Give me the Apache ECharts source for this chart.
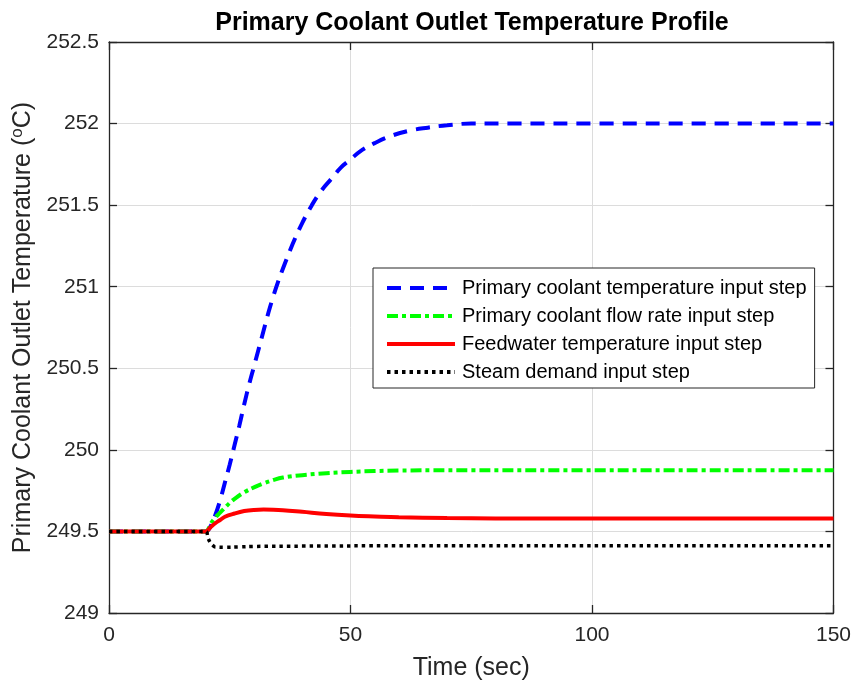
<!DOCTYPE html>
<html>
<head>
<meta charset="utf-8">
<script src="https://cdn.jsdelivr.net/npm/echarts@6/dist/echarts.min.js"></script>
<style>
  html, body { margin: 0; padding: 0; background: #fff; }
  #chart { width: 854px; height: 686px; }
</style>
</head>
<body>
<div id="chart"></div>
<script>
// series names (legend order)
const seriesNames = [
  "Primary coolant temperature input step",
  "Primary coolant flow rate input step",
  "Feedwater temperature input step",
  "Steam demand input step",
];

// primary coolant temperature step (blue dashed)
const tBlue = [0, 20, 21, 22, 23, 24, 25, 26, 27, 28, 29, 30, 31, 32, 33, 34, 35, 36, 38, 40, 42, 44, 46, 48, 50, 52, 55, 58, 62, 66, 70, 75, 80, 150];
const vBlue = [249.5, 249.5, 249.53, 249.6, 249.69, 249.8, 249.91, 250.03, 250.15, 250.28, 250.4, 250.51, 250.62, 250.73, 250.84, 250.94, 251.03, 251.11, 251.26, 251.39, 251.5, 251.59, 251.66, 251.73, 251.78, 251.83, 251.88, 251.92, 251.955, 251.975, 251.99, 252.0, 252.0, 252.0];

// primary coolant flow rate step (green dash-dot)
const tGreen = [0, 20, 21, 22, 23, 24, 25, 26, 28, 30, 32, 34, 36, 40, 45, 50, 55, 60, 70, 150];
const vGreen = [249.5, 249.5, 249.545, 249.585, 249.615, 249.645, 249.675, 249.7, 249.74, 249.77, 249.795, 249.815, 249.83, 249.845, 249.857, 249.865, 249.87, 249.873, 249.875, 249.875];

// feedwater temperature step (red solid)
const tRed = [0, 20, 21, 22, 23, 24, 26, 28, 30, 32, 34, 36, 40, 45, 50, 55, 60, 70, 80, 150];
const vRed = [249.5, 249.5, 249.525, 249.55, 249.57, 249.59, 249.61, 249.625, 249.632, 249.634, 249.633, 249.63, 249.62, 249.607, 249.598, 249.592, 249.587, 249.582, 249.58, 249.58];

// steam demand step (black dotted)
const tBlack = [0, 20, 20.5, 21, 21.5, 22, 24, 27, 30, 40, 60, 150];
const vBlack = [249.5, 249.5, 249.46, 249.43, 249.415, 249.405, 249.403, 249.405, 249.408, 249.41, 249.412, 249.412];

const pairs = (t, v) => t.map((x, i) => [x, v[i]]);

const FONT = "Liberation Sans, Arial, Helvetica, sans-serif";
const AXIS_COLOR = "#262626";

const chart = echarts.init(document.getElementById("chart"));

const line = (name, data, color, type, width) => ({
  name: name,
  type: "line",
  data: data,
  symbol: "none",
  smooth: 0.4,
  xAxisIndex: 0,
  yAxisIndex: 0,
  itemStyle: { color: color },
  lineStyle: { color: color, width: width, type: type, cap: "butt" },
  emphasis: { disabled: true },
});

const option = {
  animation: false,
  backgroundColor: "#fff",
  textStyle: { fontFamily: FONT },
  title: {
    text: "Primary Coolant Outlet Temperature Profile",
    left: 467,
    top: 6,
    textAlign: "center",
    textStyle: { fontFamily: FONT, fontSize: 25, fontWeight: "bold", color: "#000" },
  },
  grid: { left: 109, right: 20, top: 42, bottom: 72 },
  legend: {
    orient: "vertical",
    left: 373,
    top: 268,
    padding: [10, 8, 6, 12],
    itemWidth: 68,
    itemHeight: 14,
    itemGap: 8,
    backgroundColor: "#fff",
    borderColor: AXIS_COLOR,
    borderWidth: 1,
    borderRadius: 0,
    itemStyle: { opacity: 0 },
    lineStyle: { width: 4 },
    textStyle: { fontFamily: FONT, fontSize: 20, color: "#000", padding: [0, 0, 0, 2] },
    data: seriesNames,
  },
  xAxis: [
    {
      type: "value",
      min: 0,
      max: 150,
      interval: 50,
      name: "Time (sec)",
      nameLocation: "middle",
      nameGap: 43,
      nameTextStyle: { fontFamily: FONT, fontSize: 25, color: "#262626" },
      axisLine: { show: true, onZero: false, lineStyle: { color: AXIS_COLOR, width: 1.3 } },
      axisTick: { show: true, inside: true, length: 8, lineStyle: { color: AXIS_COLOR, width: 1.3 } },
      axisLabel: { fontFamily: FONT, fontSize: 21, color: "#262626", margin: 12 },
      splitLine: { show: true, lineStyle: { color: "#dcdcdc", width: 1 } },
    },
    {
      type: "value",
      position: "top",
      min: 0,
      max: 150,
      interval: 50,
      axisLine: { show: true, onZero: false, lineStyle: { color: AXIS_COLOR, width: 1.3 } },
      axisTick: { show: true, inside: true, length: 8, lineStyle: { color: AXIS_COLOR, width: 1.3 } },
      axisLabel: { show: false },
      splitLine: { show: false },
    },
  ],
  yAxis: [
    {
      type: "value",
      min: 249,
      max: 252.5,
      interval: 0.5,
      name: "Primary Coolant Outlet Temperature ({sup|o}C)",
      nameLocation: "middle",
      nameGap: 70,
      nameTextStyle: {
        fontFamily: FONT,
        fontSize: 25,
        color: "#262626",
        rich: { sup: { fontFamily: FONT, fontSize: 17, color: "#262626", padding: [0, 0, 12, 0] } },
      },
      axisLine: { show: true, onZero: false, lineStyle: { color: AXIS_COLOR, width: 1.3 } },
      axisTick: { show: true, inside: true, length: 8, lineStyle: { color: AXIS_COLOR, width: 1.3 } },
      axisLabel: { fontFamily: FONT, fontSize: 21, color: "#262626", margin: 10 },
      splitLine: { show: true, lineStyle: { color: "#dcdcdc", width: 1 } },
    },
    {
      type: "value",
      position: "right",
      min: 249,
      max: 252.5,
      interval: 0.5,
      axisLine: { show: true, onZero: false, lineStyle: { color: AXIS_COLOR, width: 1.3 } },
      axisTick: { show: true, inside: true, length: 8, lineStyle: { color: AXIS_COLOR, width: 1.3 } },
      axisLabel: { show: false },
      splitLine: { show: false },
    },
  ],
  series: [
    line(seriesNames[0], pairs(tBlue, vBlue), "#0000ff", [14, 9], 4),
    line(seriesNames[1], pairs(tGreen, vGreen), "#00ff00", [11, 4, 4, 4], 4),
    line(seriesNames[2], pairs(tRed, vRed), "#ff0000", "solid", 4),
    line(seriesNames[3], pairs(tBlack, vBlack), "#000000", [3.5, 4], 3.5),
  ],
};

chart.setOption(option);

window.addEventListener("resize", () => {
  chart.resize();
});
</script>
</body>
</html>
